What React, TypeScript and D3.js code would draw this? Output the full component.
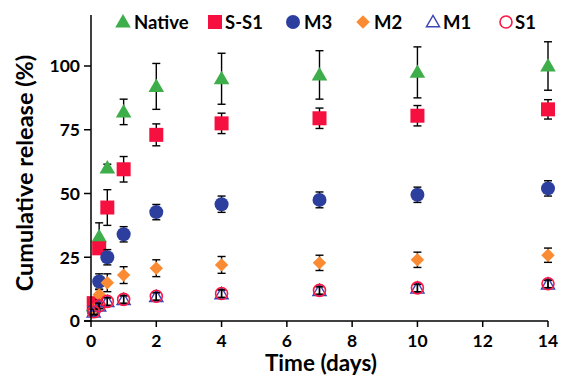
import React from 'react'
import * as d3 from 'd3'

// Sampling times (days)
const times = [0.083, 0.25, 0.5, 1, 2, 4, 7, 10, 14]

const nativeVals = [6, 33, 60, 82, 92, 95, 96.5, 97.5, 100]
const nativeErr = [1, 5.5, 1.5, 5, 9, 10, 9.5, 10, 9.5]
const ss1Vals = [7, 28.5, 44.5, 59.5, 73, 77.5, 79.5, 80.5, 83]
const ss1Err = [2, 1.5, 7, 5, 4.3, 4, 4, 4, 3.8]
const m3Vals = [4, 15.5, 25, 34, 42.7, 45.8, 47.5, 49.5, 52]
const m3Err = [1, 3, 3, 3, 3, 3.2, 3.1, 3, 3]
const m2Vals = [4.5, 10.3, 15, 18, 20.7, 22, 22.8, 24, 25.8]
const m2Err = [1, 2, 3.5, 3.3, 3.3, 3.3, 3, 3, 2.8]
const m1Vals = [3.4, 5.8, 7.5, 8.3, 9.5, 10.6, 11.9, 12.8, 14.4]
const m1Err = [1, 1, 1.5, 1.5, 1.5, 1.5, 1.5, 1.5, 1.5]
const s1Vals = [3.6, 6, 7.7, 8.5, 9.7, 10.8, 12, 13, 14.6]
const s1Err = [1, 1, 1.5, 1.5, 1.5, 1.5, 1.5, 1.5, 1.5]

const xTicks = [0, 2, 4, 6, 8, 10, 12, 14]
const yTicks = [0, 25, 50, 75, 100]

type Shape = 'triangle' | 'square' | 'circle' | 'diamond' | 'triangleOpen' | 'circleOpen'

interface Series {
  name: string
  values: number[]
  errors: number[]
  shape: Shape
  color: string
}

const series: Series[] = [
  { name: 'Native', values: nativeVals, errors: nativeErr, shape: 'triangle', color: '#3DAE49' },
  { name: 'S-S1', values: ss1Vals, errors: ss1Err, shape: 'square', color: '#F5103F' },
  { name: 'M3', values: m3Vals, errors: m3Err, shape: 'circle', color: '#2D3F9E' },
  { name: 'M2', values: m2Vals, errors: m2Err, shape: 'diamond', color: '#FA8B33' },
  { name: 'M1', values: m1Vals, errors: m1Err, shape: 'triangleOpen', color: '#3B46B4' },
  { name: 'S1', values: s1Vals, errors: s1Err, shape: 'circleOpen', color: '#FF1744' },
]

const width = 562
const height = 376
const margin = { top: 15, right: 14, bottom: 55, left: 91 }
const font = 'Lato, "Open Sans", sans-serif'

const x = d3.scaleLinear().domain([0, 14]).range([margin.left, width - margin.right])
const y = d3.scaleLinear().domain([0, 120]).range([height - margin.bottom, margin.top])

const Marker = ({ shape, color, cx, cy }: { shape: Shape; color: string; cx: number; cy: number }) => {
  const tri = d3.symbol().type(d3.symbolTriangle)
  switch (shape) {
    case 'triangle':
      return <path d={tri.size(105)()!} transform={`translate(${cx},${cy + 1})`} fill={color} />
    case 'square':
      return <rect x={cx - 7} y={cy - 7} width={14} height={14} fill={color} />
    case 'circle':
      return <circle cx={cx} cy={cy} r={7} fill={color} />
    case 'diamond':
      return <path d={d3.symbol().type(d3.symbolDiamond2).size(115)()!} transform={`translate(${cx},${cy})`} fill={color} />
    case 'triangleOpen':
      return (
        <path d={tri.size(75)()!} transform={`translate(${cx},${cy + 1})`} fill="none" stroke={color} strokeWidth={1.4} />
      )
    case 'circleOpen':
      return <circle cx={cx} cy={cy} r={6} fill="none" stroke={color} strokeWidth={1.6} />
  }
}

export default function App() {
  const y0 = y(0)
  const legendItems = [
    { s: series[0], mx: 123, tx: 134 },
    { s: series[1], mx: 215, tx: 225 },
    { s: series[2], mx: 293, tx: 304 },
    { s: series[3], mx: 363, tx: 374 },
    { s: series[4], mx: 433, tx: 443 },
    { s: series[5], mx: 506, tx: 515 },
  ]

  return (
    <svg
      width={width}
      height={height}
      style={{ position: 'absolute', left: 0, top: 0, background: '#fff' }}
      fontFamily={font}
    >
      {/* series: error bars then markers */}
      {series.map(s => (
        <g key={s.name}>
          {times.map((t, i) => {
            const cx = x(t)
            const top = y(s.values[i] + s.errors[i])
            const bot = y(s.values[i] - s.errors[i])
            return (
              <g key={i} stroke="#000" strokeWidth={1.4}>
                <line x1={cx} x2={cx} y1={top} y2={bot} />
                <line x1={cx - 4} x2={cx + 4} y1={top} y2={top} />
                <line x1={cx - 4} x2={cx + 4} y1={bot} y2={bot} />
              </g>
            )
          })}
          {times.map((t, i) => (
            <Marker key={i} shape={s.shape} color={s.color} cx={x(t)} cy={y(s.values[i])} />
          ))}
        </g>
      ))}

      {/* axes */}
      <g stroke="#000" strokeWidth={1.5}>
        <line x1={x(0)} x2={x(0)} y1={y(120)} y2={y0} />
        <line x1={x(0) - 7} x2={x(14)} y1={y0} y2={y0} />
        {yTicks.map(v => (
          <line key={v} x1={x(0) - 7} x2={x(0)} y1={y(v)} y2={y(v)} />
        ))}
        {xTicks.map(v => (
          <line key={v} x1={x(v)} x2={x(v)} y1={y0} y2={y0 + 6} />
        ))}
      </g>
      {yTicks.map(v => (
        <text key={v} x={x(0) - 11} y={y(v)} dy="0.36em" textAnchor="end" fontSize={17.5} fontWeight={700} fill="#000">
          {v}
        </text>
      ))}
      {xTicks.map(v => (
        <text key={v} x={x(v)} y={y0 + 26} textAnchor="middle" fontSize={17.5} fontWeight={700} fill="#000">
          {v}
        </text>
      ))}

      <text x={321} y={371} textAnchor="middle" fontSize={22.5} fontWeight={700} fill="#000">
        Time (days)
      </text>
      <text
        transform={`translate(33, ${(y(0) + y(120)) / 2 + 5}) rotate(-90)`}
        textAnchor="middle"
        fontSize={23.5}
        fontWeight={700}
        fill="#000"
      >
        Cumulative release (%)
      </text>

      {/* legend */}
      {legendItems.map(({ s, mx, tx }) => (
        <g key={s.name}>
          <Marker shape={s.shape} color={s.color} cx={mx} cy={22} />
          <text x={tx} y={22} dy="0.36em" fontSize={18.5} fontWeight={700} fill="#000">
            {s.name}
          </text>
        </g>
      ))}
    </svg>
  )
}
